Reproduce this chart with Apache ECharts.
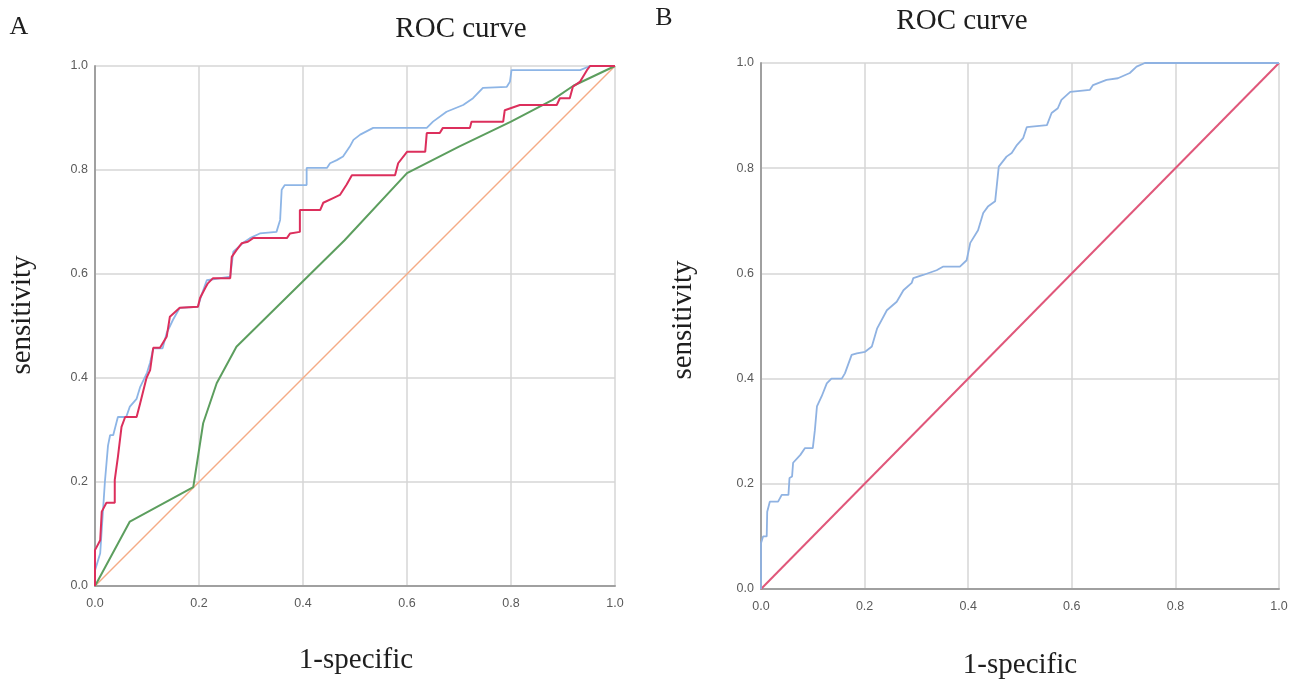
<!DOCTYPE html>
<html><head><meta charset="utf-8">
<script src="https://cdn.jsdelivr.net/npm/echarts@6/dist/echarts.min.js"></script>
<style>html,body{margin:0;padding:0;background:#fff}#c{width:1293px;height:684px}</style>
</head><body><div id="c"></div>
<script>
const tickLabels = ['0.0','0.2','0.4','0.6','0.8','1.0'];
const panelTitles = ['ROC curve','ROC curve'];
const panelLetters = ['A','B'];
const xName = '1-specific';
const yName = 'sensitivity';

const blueA = [[0,0],[0,0.03],[0.01,0.063],[0.019,0.2],[0.025,0.27],[0.029,0.29],[0.035,0.29],[0.044,0.325],[0.06,0.325],[0.067,0.345],[0.08,0.36],[0.087,0.383],[0.1,0.41],[0.106,0.43],[0.112,0.457],[0.13,0.457],[0.138,0.487],[0.15,0.512],[0.163,0.535],[0.198,0.537],[0.205,0.56],[0.215,0.588],[0.26,0.595],[0.266,0.643],[0.285,0.66],[0.298,0.669],[0.317,0.678],[0.349,0.681],[0.356,0.704],[0.359,0.762],[0.365,0.771],[0.407,0.771],[0.407,0.804],[0.446,0.804],[0.452,0.813],[0.465,0.819],[0.477,0.826],[0.49,0.845],[0.497,0.858],[0.51,0.868],[0.535,0.881],[0.638,0.881],[0.65,0.893],[0.676,0.912],[0.708,0.925],[0.727,0.938],[0.746,0.958],[0.792,0.96],[0.798,0.97],[0.801,0.992],[0.933,0.992],[0.952,1],[1,1]];
const redA = [[0,0],[0,0.069],[0.01,0.088],[0.013,0.143],[0.022,0.16],[0.038,0.16],[0.038,0.204],[0.044,0.248],[0.051,0.306],[0.058,0.325],[0.08,0.325],[0.087,0.352],[0.099,0.4],[0.106,0.415],[0.112,0.458],[0.125,0.458],[0.138,0.48],[0.144,0.518],[0.154,0.527],[0.163,0.535],[0.198,0.537],[0.202,0.554],[0.212,0.573],[0.217,0.582],[0.227,0.592],[0.26,0.592],[0.263,0.633],[0.272,0.646],[0.282,0.659],[0.294,0.662],[0.304,0.669],[0.369,0.669],[0.375,0.678],[0.394,0.681],[0.394,0.723],[0.433,0.723],[0.439,0.737],[0.458,0.746],[0.471,0.752],[0.484,0.772],[0.494,0.79],[0.577,0.79],[0.583,0.813],[0.6,0.835],[0.635,0.835],[0.638,0.871],[0.663,0.871],[0.669,0.881],[0.721,0.881],[0.724,0.893],[0.785,0.893],[0.788,0.915],[0.817,0.925],[0.888,0.925],[0.894,0.938],[0.913,0.938],[0.919,0.96],[0.933,0.97],[0.946,0.992],[0.952,1],[1,1]];
const greenA = [[0,0],[0.067,0.124],[0.189,0.19],[0.208,0.313],[0.234,0.39],[0.272,0.46],[0.48,0.665],[0.6,0.794],[0.7,0.845],[0.8,0.893],[0.88,0.935],[0.92,0.962],[1,1]];
const diagA = [[0,0],[1,1]];
const blueB = [[0,0],[0,0.087],[0.004,0.1],[0.011,0.1],[0.012,0.147],[0.017,0.166],[0.033,0.166],[0.04,0.179],[0.053,0.179],[0.055,0.211],[0.06,0.214],[0.062,0.24],[0.076,0.255],[0.085,0.268],[0.1,0.268],[0.104,0.302],[0.108,0.347],[0.117,0.366],[0.127,0.391],[0.136,0.4],[0.156,0.4],[0.162,0.41],[0.175,0.445],[0.185,0.448],[0.201,0.451],[0.214,0.461],[0.224,0.495],[0.243,0.53],[0.262,0.546],[0.275,0.568],[0.291,0.582],[0.294,0.591],[0.313,0.597],[0.339,0.606],[0.352,0.613],[0.384,0.613],[0.397,0.625],[0.404,0.658],[0.419,0.682],[0.429,0.715],[0.438,0.727],[0.452,0.737],[0.455,0.765],[0.459,0.803],[0.474,0.822],[0.484,0.829],[0.494,0.844],[0.506,0.857],[0.513,0.878],[0.552,0.882],[0.561,0.905],[0.573,0.914],[0.58,0.93],[0.597,0.945],[0.635,0.949],[0.641,0.958],[0.667,0.968],[0.689,0.971],[0.712,0.981],[0.725,0.993],[0.741,1],[1,1]];
const diagB = [[0,0],[1,1]];

const serif = '"Liberation Serif","DejaVu Serif",serif';
const sans = '"Liberation Sans","DejaVu Sans",sans-serif';
function fmt(v){ return tickLabels[Math.round(v/0.2)]; }
function xAxis(i){ return {gridIndex:i,type:'value',min:0,max:1,interval:0.2,
  axisLine:{show:true,onZero:false,lineStyle:{color:'#a0a0a0',width:2}},axisTick:{show:false},
  axisLabel:{formatter:fmt,fontFamily:sans,fontSize:12.5,color:'#5a5a5a',margin:11},
  splitLine:{show:true,lineStyle:{color:'#d6d6d6',width:1.5}}}; }
function yAxis(i){ return {gridIndex:i,type:'value',min:0,max:1,interval:0.2,
  axisLine:{show:true,onZero:false,lineStyle:{color:'#a0a0a0',width:2}},axisTick:{show:false},
  axisLabel:{formatter:fmt,fontFamily:sans,fontSize:12.5,color:'#5a5a5a',margin:7},
  splitLine:{show:true,lineStyle:{color:'#d6d6d6',width:1.5}}}; }
function line(data, color, w, xi){ return {type:'line',data:data,xAxisIndex:xi,yAxisIndex:xi,showSymbol:false,symbol:'none',
  lineStyle:{color:color,width:w},itemStyle:{color:color},silent:true,animation:false}; }
function label(text, x, y, rot, size){ return {type:'text',x:x,y:y,rotation:rot,silent:true,
  style:{text:text,font:size+'px '+serif,fill:'#1e1e1e',align:'center',verticalAlign:'middle',textAlign:'center',textVerticalAlign:'middle'}}; }

const chart = echarts.init(document.getElementById('c'));
chart.setOption({
  backgroundColor:'#fff',
  animation:false,
  graphic:[
    label(panelTitles[0], 461, 29, 0, 29),
    label(panelTitles[1], 962, 21, 0, 29),
    label(panelLetters[0], 19, 27, 0, 26),
    label(panelLetters[1], 664, 18, 0, 26),
    label(xName, 356, 660, 0, 29),
    label(xName, 1020, 665, 0, 29),
    label(yName, 22, 315, Math.PI/2, 29),
    label(yName, 683, 320, Math.PI/2, 29)
  ],
  grid:[
    {left:95,top:66,width:520,height:520},
    {left:761,top:63,width:518,height:526}
  ],
  xAxis:[xAxis(0), xAxis(1)],
  yAxis:[yAxis(0), yAxis(1)],
  series:[
    line(diagA,'#f5ab86',1.5,0),
    line(greenA,'#5c9e5e',2,0),
    line(blueA,'#8db5e6',1.8,0),
    line(redA,'#dc2f5c',2,0),
    line(diagB,'#e0577a',2,1),
    line(blueB,'#8fb2e2',1.8,1)
  ]
});
</script></body></html>
